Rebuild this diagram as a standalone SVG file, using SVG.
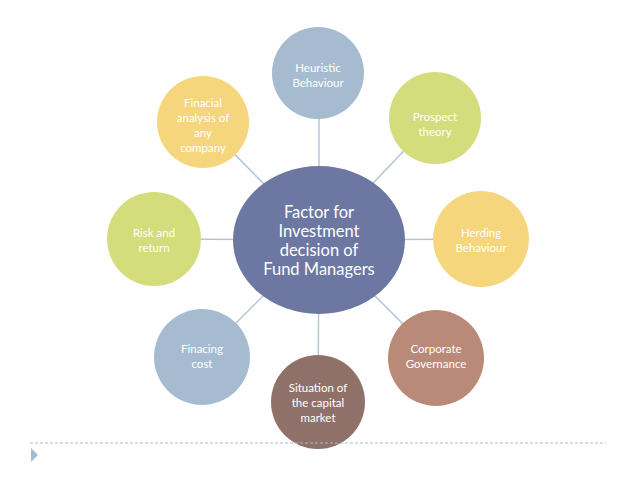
<svg xmlns="http://www.w3.org/2000/svg" width="638" height="479" viewBox="0 0 638 479">
<style>
.lbl{font-family:Lato,"Open Sans","Liberation Sans",sans-serif;font-size:11.5px;fill:#ffffff;text-anchor:middle}
.ctr{font-family:Lato,"Open Sans","Liberation Sans",sans-serif;font-size:16.5px;fill:#ffffff;text-anchor:middle}
.conn{stroke:#b4c5d6;stroke-width:1.5;fill:none}
</style>
<rect width="638" height="479" fill="#ffffff"/>
<g id="connectors">
<line class="conn" x1="319" y1="240" x2="319" y2="73"/>
<line class="conn" x1="319" y1="240" x2="435" y2="118"/>
<line class="conn" x1="319" y1="240" x2="481" y2="239"/>
<line class="conn" x1="319" y1="240" x2="436" y2="357"/>
<line class="conn" x1="319" y1="240" x2="318" y2="402"/>
<line class="conn" x1="319" y1="240" x2="202" y2="357"/>
<line class="conn" x1="319" y1="240" x2="154" y2="239"/>
<line class="conn" x1="319" y1="240" x2="203" y2="122"/>
</g>
<g id="heuristic">
<circle cx="318" cy="73" r="46" fill="#a6bbd0"/>
<text class="lbl" x="318" y="72">Heuristic</text>
<text class="lbl" x="318" y="87">Behaviour</text>
</g>
<g id="prospect">
<circle cx="435" cy="118" r="46" fill="#d4dc7c"/>
<text class="lbl" x="435" y="121">Prospect</text>
<text class="lbl" x="435" y="136">theory</text>
</g>
<g id="herding">
<circle cx="481" cy="239" r="48" fill="#f6d67c"/>
<text class="lbl" x="481" y="237">Herding</text>
<text class="lbl" x="481" y="252">Behaviour</text>
</g>
<g id="corporate">
<circle cx="436" cy="358" r="48" fill="#b98a77"/>
<text class="lbl" x="436" y="353">Corporate</text>
<text class="lbl" x="436" y="368">Governance</text>
</g>
<g id="situation">
<circle cx="318" cy="402" r="47" fill="#8f716a"/>
<text class="lbl" x="318" y="392">Situation of</text>
<text class="lbl" x="318" y="407">the capital</text>
<text class="lbl" x="318" y="422">market</text>
</g>
<g id="financing">
<circle cx="202" cy="357" r="48" fill="#a6bbd0"/>
<text class="lbl" x="202" y="353">Finacing</text>
<text class="lbl" x="202" y="368">cost</text>
</g>
<g id="risk">
<circle cx="154" cy="239" r="47" fill="#d4dc7c"/>
<text class="lbl" x="154" y="237">Risk and</text>
<text class="lbl" x="154" y="252">return</text>
</g>
<g id="financial">
<circle cx="203" cy="122" r="46" fill="#f6d67c"/>
<text class="lbl" x="203" y="107">Finacial</text>
<text class="lbl" x="203" y="122">analysis of</text>
<text class="lbl" x="203" y="137">any</text>
<text class="lbl" x="203" y="152">company</text>
</g>
<g id="center">
<ellipse cx="319" cy="240" rx="86" ry="74" fill="#6c77a2"/>
<text class="ctr" x="319" y="218">Factor for</text>
<text class="ctr" x="319" y="237">Investment</text>
<text class="ctr" x="319" y="256">decision of</text>
<text class="ctr" x="319" y="275">Fund Managers</text>
</g>
<g id="footer">
<line x1="30" y1="443" x2="606" y2="443" stroke="#a9bccd" stroke-width="1" stroke-dasharray="3,2"/>
<polygon points="31,448 38,455 31,462" fill="#a5bcd3"/>
</g>
</svg>
